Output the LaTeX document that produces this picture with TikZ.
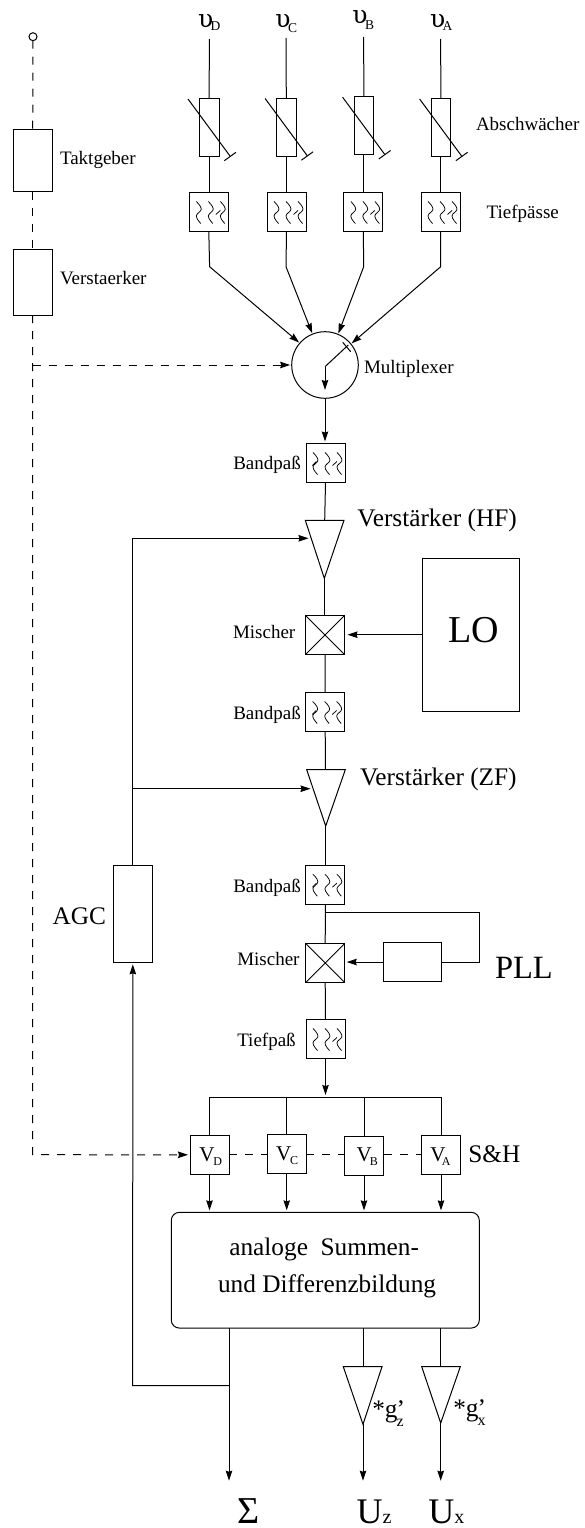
\documentclass[tikz,border=0pt]{standalone}
\usepackage{fontspec}
\setmainfont{Liberation Serif}
\newfontfamily\upsf{DejaVu Serif}
\usetikzlibrary{arrows.meta}
\newcommand\fs[1]{\fontsize{#1}{#1}\selectfont}
\newcommand\subt[3]{\raisebox{#1}{\fs{#2}#3}}
\newcommand\ups{{\upsf\fs{25}υ}}
\tikzset{
  every picture/.append style={line width=1pt,line join=miter},
  blk/.style={draw,rectangle,inner sep=0pt,outer sep=0pt,fill=none},
  filt/.style={blk,minimum width=39pt,minimum height=39pt},
  resist/.style={blk,minimum width=19.6pt,minimum height=58pt},
  tall/.style={blk,minimum width=39pt},
  vbox/.style={blk,minimum width=39pt,minimum height=39pt},
  lab/.style={anchor=base west,inner sep=0pt,outer sep=0pt,font=\fs{19}},
  big/.style={lab,font=\fs{25.3}},
  arr/.style={-{Stealth[length=10pt,width=6.5pt,inset=1pt]},shorten >=2pt},
  dash line/.style={dash pattern=on 8pt off 8pt},
  wave/.pic={
    \foreach \d in {-0.5,11.5,23.5}
      \draw[line width=.75pt,xshift=\d pt] plot[smooth,tension=.7] coordinates {(-12,-10.5) (-7,-3) (-12,4) (-7.5,11.5)};
  },
  tickL/.pic={\draw[line width=.75pt] (7,2.5) -- (11.5,-1.5);},
  tickB/.pic={\draw[line width=.75pt] (-13,2.5) -- (-9,-1.5);},
  att/.pic={
    \draw (-21.2,-28.5) -- (20.8,28.5);
    \draw (15.1,33.2) -- (26.8,24.8);
  },
  mixcross/.pic={\draw[line width=.8pt] (-19.3,-19.3) -- (19.3,19.3) (-19.3,19.3) -- (19.3,-19.3);}
}
\begin{document}
\begin{tikzpicture}[x=1pt,y=-1pt]
\useasboundingbox (0,0) rectangle (584,1528);

% clock chain
\node[draw,circle,inner sep=0pt,outer sep=0pt,minimum size=8pt] (src) at (33,36.7) {};
\node[tall,minimum height=61.7pt] (takt) at (32.7,160.8) {};
\node[tall,minimum height=65.7pt] (verst) at (32.7,282.2) {};
\node[lab] (ltakt) at (60,164.3) {Taktgeber};
\node[lab] (lverst) at (60,284.3) {Verstaerker};

% inputs
\node[lab] (uD) at (198,28) {\ups\kern-2.5pt\subt{-2pt}{13.5}{D}};
\node[lab] (uC) at (275.3,28) {\ups\kern-2.5pt\subt{-5pt}{13.5}{C}};
\node[lab] (uB) at (352.3,23.5) {\ups\kern-2.5pt\subt{-6pt}{13.5}{B}};
\node[lab] (uA) at (430,28) {\ups\kern-2.5pt\subt{-2pt}{13.5}{A}};
\coordinate (iD) at (209.3,39);
\coordinate (iC) at (286,38);
\coordinate (iB) at (363.7,37);
\coordinate (iA) at (440.7,39);

\node[resist] (aD) at (209.2,127.5) {};
\node[resist] (aC) at (286.3,127) {};
\node[resist] (aB) at (363.8,125.7) {};
\node[resist] (aA) at (440.8,127.5) {};
\foreach \n in {aD,aC,aB,aA} \pic at (\n) {att};

\node[filt] (fD) at (208.8,212) {};
\node[filt] (fC) at (286.5,212) {};
\node[filt] (fB) at (363.3,212) {};
\node[filt] (fA) at (440.5,212) {};
\foreach \n in {fD,fC,fB,fA} {\pic at (\n) {wave}; \pic at (\n) {tickL};}

\node[lab] (labs) at (476,130) {Abschwächer};
\node[lab] (ltp) at (486.7,218.3) {Tiefpässe};

\draw (iD) -- (aD.north);
\draw (iC) -- (aC.north);
\draw (iB) -- (aB.north);
\draw (iA) -- (aA.north);
\draw (aD.south) -- (aD.south |- fD.north);
\draw (aC.south) -- (aC.south |- fC.north);
\draw (aB.south) -- (aB.south |- fB.north);
\draw (aA.south) -- (aA.south |- fA.north);

% multiplexer
\node[draw,circle,inner sep=0pt,outer sep=0pt,minimum size=66.6pt] (mux) at (325,365) {};
\node[lab] (lmux) at (364,373.3) {Multiplexer};
\draw[arr,shorten >=1pt] (fD.south) -- (209.6,266.7) -- (mux.139);
\draw[arr,shorten >=1pt] (fC.south) -- (286,266.7) -- (mux.112);
\draw[arr,shorten >=1pt] (fB.south) -- (363.7,266.7) -- (mux.67);
\draw[arr,shorten >=1pt] (fA.south) -- (440.7,266.7) -- (mux.39);
\coordinate (swp) at (325,366.7);
\coordinate (swt) at (348.3,345);
\coordinate (swe) at (325,392);
\draw (swt) -- (swp);
\draw[arr] (swp) -- (swe);
\draw (342.7,342.3) -- (350.7,351.7);

% main chain
\node[filt] (bp1) at (325.5,463) {};
\pic at (bp1) {wave}; \pic at (bp1) {tickL}; \pic at (bp1) {tickB};
\node[lab] (lbp1) at (233.3,469.3) {Bandpaß};
\draw[arr] (mux.south) -- (mux.south |- bp1.north);

\coordinate (t1a) at (305.3,520.3);
\coordinate (t1b) at (344,520.3);
\coordinate (t1c) at (324.3,578.3);
\coordinate (t1t) at (324.7,520.3);
\coordinate (t1i) at (310.5,538.3);
\draw (t1a) -- (t1b) -- (t1c) -- cycle;
\draw (bp1.south) -- (t1t);
\node[big] (lhf) at (357.3,526.7) {Verstärker (HF)};

\node[filt] (mx1) at (325,635) {};
\pic at (mx1) {mixcross};
\node[lab] (lmx1) at (233,638.7) {Mischer};
\draw (t1c) -- (t1c |- mx1.north);
\node[blk,minimum width=97.3pt,minimum height=153.3pt] (lo) at (470.7,634.7) {};
\node[lab,font=\fs{38}] (llo) at (448,642.7) {LO};
\draw[arr,shorten >=3pt] (lo.west) -- (mx1.east |- lo.west);

\node[filt] (bp2) at (325.2,712) {};
\pic at (bp2) {wave}; \pic at (bp2) {tickL}; \pic at (bp2) {tickB};
\node[lab] (lbp2) at (233.3,719) {Bandpaß};
\draw (mx1.south) -- (bp2.north);

\coordinate (t2a) at (306.7,769.7);
\coordinate (t2b) at (345.3,769.7);
\coordinate (t2c) at (325.7,826);
\coordinate (t2t) at (325.5,769.7);
\coordinate (t2i) at (312.5,788.7);
\draw (t2a) -- (t2b) -- (t2c) -- cycle;
\draw (bp2.south) -- (t2t);
\node[big] (lzf) at (360,785) {Verstärker (ZF)};

\node[filt] (bp3) at (325.4,884.7) {};
\pic at (bp3) {wave}; \pic at (bp3) {tickL}; \pic at (bp3) {tickB};
\node[lab] (lbp3) at (233.3,892.7) {Bandpaß};
\draw (t2c) -- (t2c |- bp3.north);

\node[filt] (mx2) at (325.2,963) {};
\pic at (mx2) {mixcross};
\node[lab] (lmx2) at (237.3,965.7) {Mischer};
\draw (bp3.south) -- (mx2.north);

\node[blk,minimum width=58pt,minimum height=38.6pt] (pll) at (412,962) {};
\node[lab,font=\fs{32.5}] (lpll) at (495,978.3) {PLL};
\coordinate (pj) at (325.5,912);
\draw[arr,shorten >=2pt] (pll.west) -- (mx2.east |- pll.west);
\draw (pj) -- (479.3,912) -- (479.3,962) -- (pll.east);

\node[filt] (tp) at (325.5,1039) {};
\pic at (tp) {wave}; \pic at (tp) {tickL};
\node[lab] (ltpa) at (237.3,1046.7) {Tiefpaß};
\draw (mx2.south) -- (tp.north);

% AGC
\node[blk,minimum width=39pt,minimum height=96.6pt] (agc) at (132.8,914) {};
\node[big] (lagc) at (52.7,924) {AGC};
\draw[arr] (agc.north) -- (132.8,538.3) -- (t1i);
\draw[arr] (132.8,788.7) -- (t2i);

% S&H
\coordinate (bus) at (325.5,1097);
\draw[arr] (tp.south) -- (bus);
\node[vbox] (vD) at (209.5,1154.8) {};
\node[vbox] (vC) at (286.7,1154) {};
\node[vbox] (vB) at (364,1155.5) {};
\node[vbox] (vA) at (441,1155.3) {};
\node[lab,font=\fs{21}] (tD) at (199.3,1161) {V\kern-1pt\subt{-4pt}{12}{D}};
\node[lab,font=\fs{21}] (tC) at (276,1160) {V\kern-1pt\subt{-4pt}{12}{C}};
\node[lab,font=\fs{21}] (tB) at (356.7,1161) {V\kern-2pt\subt{-4pt}{12}{B}};
\node[lab,font=\fs{21}] (tA) at (430.3,1161) {V\kern-3.5pt\subt{-4pt}{12}{A}};
\node[big] (lsh) at (468.3,1162.3) {S\&H};
\draw (vD.north) -- (209.5,1097) -- (441,1097) -- (vA.north);
\draw (vC.north) -- (286.7,1097);
\draw (vB.north) -- (364,1097);

% clock lines
\draw[dash line] (src) -- (takt.north);
\draw[dash line] (takt.south) -- (verst.north);
\coordinate (cj) at (32.7,365);
\draw[dash line,arr] (verst.south) -- (32.7,1154.7) -- (vD.west);
\draw[dash line,arr,shorten >=1.5pt] (cj) -- (mux.west);
\draw[dash line] (vD.east |- 0,1154.7) -- (vC.west |- 0,1154.7);
\draw[dash line] (vC.east |- 0,1154.7) -- (vB.west |- 0,1154.7);
\draw[dash line] (vB.east |- 0,1154.7) -- (vA.west |- 0,1154.7);

% sum box
\node[blk,rounded corners=8pt,minimum width=308pt,minimum height=115.7pt] (sum) at (325.3,1270.2) {};
\node[big] (ls1) at (229.3,1255) {analoge\ \ Summen-};
\node[big] (ls2) at (218,1292.7) {und Differenzbildung};
\draw[arr] (vD.south) -- (vD.south |- sum.north);
\draw[arr] (vC.south) -- (vC.south |- sum.north);
\draw[arr] (vB.south) -- (vB.south |- sum.north);
\draw[arr] (vA.south) -- (vA.south |- sum.north);

% outputs
\coordinate (oS) at (229,1328);
\coordinate (oSe) at (229,1482.7);
\coordinate (oj) at (229,1385.7);
\draw[arr] (oS) -- (oSe);
\draw[arr] (oj) -- (132.7,1385.7) -- (agc.south);

\coordinate (zt) at (363.7,1366.7);
\coordinate (za) at (343.3,1366.7);
\coordinate (zb) at (382,1366.7);
\coordinate (zc) at (363,1424.3);
\draw (za) -- (zb) -- (zc) -- cycle;
\draw (363.7,1328) -- (zt);
\draw[arr] (zc) -- (363,1482.7);

\coordinate (xt) at (440.7,1366.7);
\coordinate (xa) at (421.7,1366.7);
\coordinate (xb) at (460.3,1366.7);
\coordinate (xc) at (440.7,1423);
\draw (xa) -- (xb) -- (xc) -- cycle;
\draw (440.7,1328) -- (xt);
\draw[arr] (xc) -- (440.7,1482.7);

\node[big] (lgz) at (372.3,1417) {*g\kern-1pt\rlap{’}\subt{-9pt}{16}{z}};
\node[big] (lgx) at (453.3,1416) {*g\kern-1pt\rlap{’}\subt{-9pt}{16}{x}};

\node[lab,font=\fs{38}] (lsig) at (237,1523.3) {Σ};
\node[lab,font=\fs{36}] (luz) at (356.7,1523.3) {U\subt{0pt}{20}{z}};
\node[lab,font=\fs{36}] (lux) at (428.3,1523.3) {U\subt{0pt}{20}{x}};
\end{tikzpicture}
\end{document}
